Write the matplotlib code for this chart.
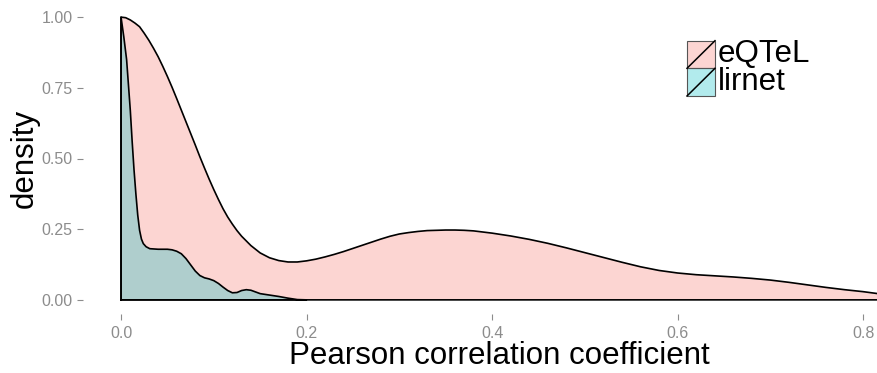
import numpy as np
import matplotlib
matplotlib.use("Agg")
import matplotlib.pyplot as plt
from matplotlib.patches import Rectangle
from matplotlib.lines import Line2D

plt.rcParams['font.family'] = ['Liberation Sans', 'DejaVu Sans']

# density curves (correlation, density)
eqtel_x = [0.000, 0.005, 0.010, 0.015, 0.020, 0.025, 0.030, 0.035, 0.040, 0.045,
           0.050, 0.055, 0.060, 0.065, 0.070, 0.075, 0.080, 0.085, 0.090, 0.095,
           0.100, 0.105, 0.110, 0.115, 0.120, 0.125, 0.130, 0.140, 0.150, 0.160,
           0.170, 0.180, 0.190,
           0.200, 0.210, 0.220, 0.230, 0.240, 0.250, 0.260, 0.270, 0.280, 0.290,
           0.300, 0.310, 0.320, 0.330, 0.340, 0.350, 0.360, 0.370, 0.380, 0.390,
           0.400, 0.420, 0.440, 0.460, 0.480, 0.500, 0.520, 0.540, 0.560, 0.580,
           0.600, 0.620, 0.640, 0.660, 0.680, 0.700, 0.720, 0.740, 0.760, 0.780,
           0.800, 0.816]
eqtel_y = [1.000, 0.998, 0.990, 0.979, 0.966, 0.943, 0.918, 0.890, 0.860, 0.826,
           0.790, 0.752, 0.712, 0.671, 0.630, 0.589, 0.548, 0.506, 0.466, 0.427,
           0.390, 0.355, 0.322, 0.293, 0.268, 0.245, 0.225, 0.192, 0.166, 0.149,
           0.139, 0.134, 0.134,
           0.138, 0.144, 0.152, 0.161, 0.171, 0.182, 0.193, 0.204, 0.215, 0.225,
           0.233, 0.238, 0.242, 0.245, 0.246, 0.247, 0.247, 0.246, 0.244, 0.240,
           0.236, 0.226, 0.214, 0.200, 0.184, 0.167, 0.150, 0.133, 0.117, 0.104,
           0.095, 0.089, 0.085, 0.081, 0.076, 0.070, 0.062, 0.053, 0.044, 0.036,
           0.029, 0.022]

lirnet_x = [0.000, 0.003, 0.006, 0.008, 0.010, 0.012, 0.014, 0.016, 0.018, 0.020,
            0.022, 0.024, 0.027, 0.031, 0.040, 0.050, 0.055, 0.060, 0.065, 0.070,
            0.075, 0.080, 0.085, 0.090, 0.095, 0.100, 0.105, 0.110, 0.115, 0.120,
            0.125, 0.130, 0.135, 0.140, 0.145, 0.150, 0.160, 0.170, 0.180, 0.190,
            0.200]
lirnet_y = [1.000, 0.930, 0.850, 0.760, 0.670, 0.560, 0.460, 0.375, 0.300, 0.246,
            0.215, 0.199, 0.188, 0.181, 0.179, 0.179, 0.177, 0.172, 0.163, 0.146,
            0.124, 0.102, 0.086, 0.078, 0.074, 0.068, 0.058, 0.045, 0.033, 0.025,
            0.026, 0.033, 0.036, 0.034, 0.028, 0.022, 0.017, 0.012, 0.006, 0.001,
            0.000]

groups = ["eQTeL", "lirnet"]
colors = ["#F8766D", "#00BFC4"]
x_ticks = [0.0, 0.2, 0.4, 0.6, 0.8]
y_ticks = [0.00, 0.25, 0.50, 0.75, 1.00]

W, H = 878, 373
fig = plt.figure(figsize=(W / 100, H / 100), dpi=100)
ax = fig.add_axes([83 / W, 1 - 314 / H, 1 - 83 / W, (314 - 3) / H])

for xs, ys, c in [(eqtel_x, eqtel_y, colors[0]), (lirnet_x, lirnet_y, colors[1])]:
    px = np.r_[xs[0], xs, xs[-1]]
    py = np.r_[0, ys, 0]
    ax.fill(px, py, facecolor=c, alpha=0.3, edgecolor="none")
    ax.plot(np.r_[px, px[0]], np.r_[py, py[0]], color="black", lw=1.2,
            solid_joinstyle="round")

ax.set_xlim(-0.041, 0.816)
ax.set_ylim(-0.05, 1.05)
for s in ax.spines.values():
    s.set_visible(False)

ax.set_xticks(x_ticks)
ax.set_xticklabels(["%.1f" % v for v in x_ticks])
ax.set_yticks(y_ticks)
ax.set_yticklabels(["%.2f" % v for v in y_ticks])
ax.tick_params(axis="both", colors="#8C8C8C", labelsize=11.5, length=4.3, width=0.8)
ax.tick_params(axis="x", pad=4)
ax.tick_params(axis="y", pad=3)

ax.set_xlabel("Pearson correlation coefficient", fontsize=22.5, va="baseline")
ax.xaxis.set_label_coords((499.5 - 83) / 795, -(364 - 314) / 311)
ax.set_ylabel("density", fontsize=22.5, va="center")
ax.yaxis.set_label_coords(-(83 - 25) / 795, 0.5)

# legend keys drawn in pixel space
def fx(p):
    return p / W

def fy(p):
    return 1 - p / H

key_l, key_r = 687, 715
rows = [(40.7, 68.3), (68.3, 96.0)]
for (top, bot), name, c in zip(rows, groups, colors):
    fig.add_artist(Rectangle((fx(key_l), fy(bot)), fx(key_r - key_l), (bot - top) / H,
                             transform=fig.transFigure, facecolor=c, alpha=0.3,
                             edgecolor="none"))
    fig.add_artist(Rectangle((fx(key_l), fy(bot)), fx(key_r - key_l), (bot - top) / H,
                             transform=fig.transFigure, facecolor="none",
                             edgecolor="#555555", lw=0.8))
    fig.add_artist(Line2D([fx(key_l), fx(key_r)], [fy(bot), fy(top)],
                          transform=fig.transFigure, color="black", lw=1.1))
    fig.text(fx(718), fy((top + bot) / 2), name, fontsize=22.5, va="center", ha="left")

fig.savefig("out.png", dpi=100)
